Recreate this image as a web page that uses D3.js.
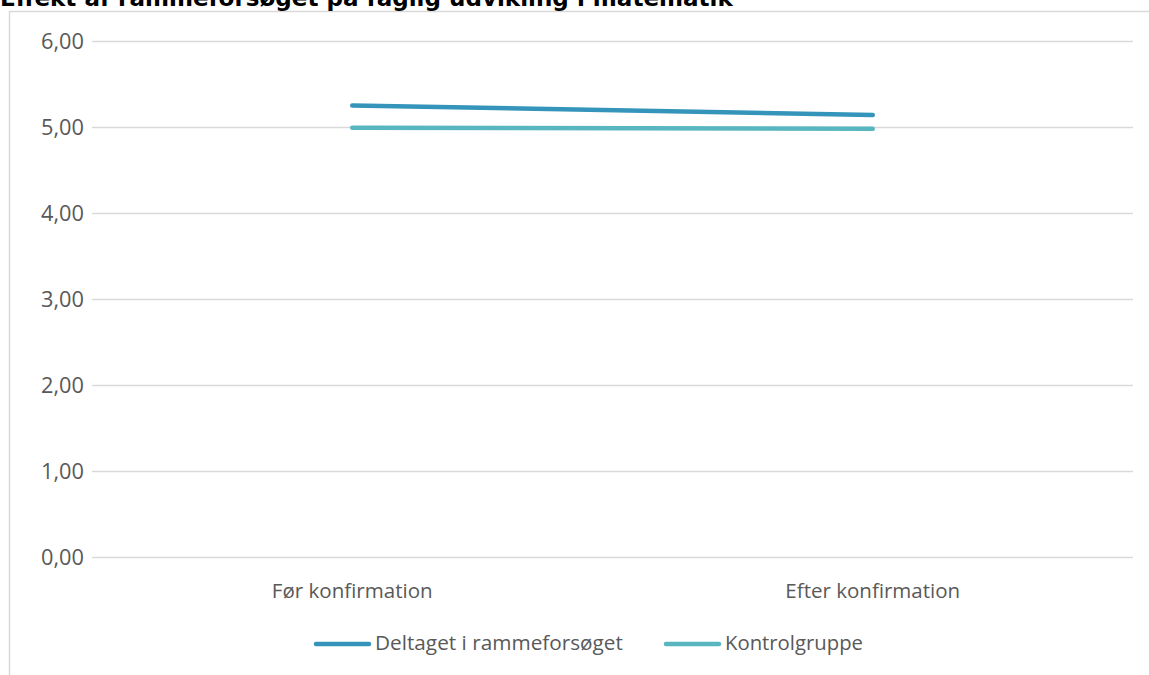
<!DOCTYPE html>
<html>
<head>
<meta charset="utf-8">
<script src="https://cdn.jsdelivr.net/npm/d3@7"></script>
<style>
  html, body { margin: 0; padding: 0; background: #fff; overflow: hidden; }
  svg { display: block; }
</style>
</head>
<body>
<svg id="chart" width="1149" height="675"></svg>
<script>
const title = "Effekt af rammeforsøget på faglig udvikling i matematik";
const categories = ["Før konfirmation", "Efter konfirmation"];
const seriesNames = ["Deltaget i rammeforsøget", "Kontrolgruppe"];
const deltagetValues = [5.25, 5.14];
const kontrolValues = [4.99, 4.98];
const yTicks = [0, 1, 2, 3, 4, 5, 6];
const colors = ["#3494BA", "#58B6C0"];

const svg = d3.select("#chart");
const W = 1149, H = 675;
const font = "'Open Sans', 'Noto Sans', sans-serif";

// fit a text element's font-size so its width equals target
function fit(sel, target) {
  const w = sel.node().getComputedTextLength();
  const fs = parseFloat(sel.attr("font-size"));
  sel.attr("font-size", fs * target / w);
}

// chart frame
svg.append("path")
  .attr("d", `M9.5,${H} L9.5,11.5 L${W},11.5`)
  .attr("fill", "none").attr("stroke", "#d9d9d9").attr("stroke-width", 1.5);

// title (clipped at top)
const t = svg.append("text")
  .attr("x", 0).attr("y", 6)
  .attr("font-family", "'DejaVu Sans', Verdana, sans-serif")
  .attr("font-weight", "bold").attr("font-size", 16)
  .attr("fill", "#000").text(title);
fit(t, 733);

const plot = { left: 92, right: 1133, top: 41, bottom: 557 };
const x = d3.scaleBand().domain(categories).range([plot.left, plot.right]);
const y = d3.scaleLinear().domain([0, 6]).range([plot.bottom, plot.top]);

// gridlines
svg.append("g").selectAll("line").data(yTicks).join("line")
  .attr("x1", plot.left).attr("x2", plot.right)
  .attr("y1", d => Math.round(y(d)) + 0.5).attr("y2", d => Math.round(y(d)) + 0.5)
  .attr("stroke", "#d9d9d9").attr("stroke-width", 1.3);

// y axis labels
const fmt = d => d3.format(".2f")(d).replace(".", ",");
const yAxis = svg.append("g")
  .attr("transform", `translate(${plot.left - 8},0)`)
  .call(d3.axisLeft(y).tickValues(yTicks).tickFormat(fmt).tickSize(0).tickPadding(0));
yAxis.select(".domain").remove();
yAxis.selectAll("text")
  .attr("font-family", font).attr("font-size", 16).attr("fill", "#595959")
  .attr("dy", "0.36em");
yAxis.selectAll("text").each(function () { fit(d3.select(this), 43); });

// x axis labels
const xAxis = svg.append("g")
  .attr("transform", `translate(0,${plot.bottom})`)
  .call(d3.axisBottom(x).tickSize(0).tickPadding(0));
xAxis.select(".domain").remove();
xAxis.selectAll("text")
  .attr("font-family", font).attr("font-size", 16).attr("fill", "#595959")
  .attr("y", 41).attr("dy", 0);
xAxis.selectAll("text").each(function (d, i) { fit(d3.select(this), i === 0 ? 161 : 175); });

// lines
const series = [deltagetValues, kontrolValues];
const line = d3.line()
  .x((d, i) => x(categories[i]) + x.bandwidth() / 2)
  .y(d => y(d));
svg.append("g").selectAll("path").data(series).join("path")
  .attr("d", d => line(d))
  .attr("fill", "none")
  .attr("stroke", (d, i) => colors[i])
  .attr("stroke-width", 4.5)
  .attr("stroke-linecap", "round")
  .attr("stroke-linejoin", "round");

// legend
const legendItems = [
  { name: seriesNames[0], color: colors[0], x0: 316, width: 248 },
  { name: seriesNames[1], color: colors[1], x0: 666, width: 138 }
];
const lg = svg.append("g");
legendItems.forEach(item => {
  lg.append("line")
    .attr("x1", item.x0).attr("x2", item.x0 + 53)
    .attr("y1", 644).attr("y2", 644)
    .attr("stroke", item.color).attr("stroke-width", 4.5).attr("stroke-linecap", "round");
  const tx = lg.append("text")
    .attr("x", item.x0 + 59).attr("y", 650)
    .attr("font-family", font).attr("font-size", 16).attr("fill", "#595959")
    .text(item.name);
  fit(tx, item.width);
});
</script>
</body>
</html>
